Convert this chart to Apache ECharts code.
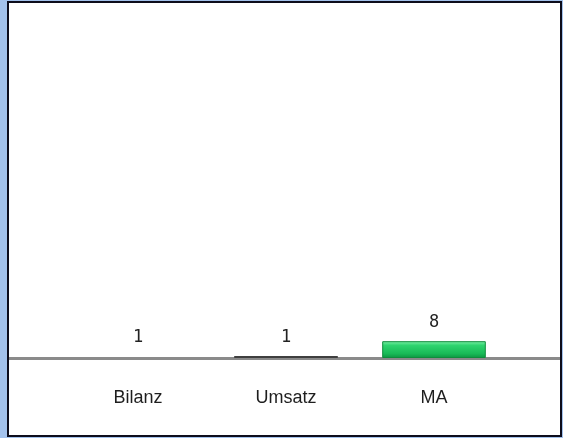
<!DOCTYPE html>
<html>
<head>
<meta charset="utf-8">
<script src="https://cdn.jsdelivr.net/npm/echarts@6/dist/echarts.min.js"></script>
<style>
html,body{margin:0;padding:0;width:563px;height:438px;overflow:hidden;background:#a3c2ec;}
#frame{position:absolute;left:7px;top:1px;width:555px;height:436px;box-sizing:border-box;border:2px solid #0d0d1c;background:#ffffff;}
#chart{position:absolute;left:0;top:0;width:563px;height:438px;}
</style>
</head>
<body>
<div id="frame"></div>
<div id="chart"></div>
<script>
const categories = ['Bilanz', 'Umsatz', 'MA'];
const values = [1, 1, 8];
const barColors = ['rgba(255,255,255,0)', '#3f3f3f', 'green'];

const chart = echarts.init(document.getElementById('chart'), null, {renderer: 'canvas'});

const greenGrad = new echarts.graphic.LinearGradient(0, 0, 0, 1, [
  {offset: 0, color: '#7ef0a8'},
  {offset: 0.25, color: '#2fd46f'},
  {offset: 0.75, color: '#18b956'},
  {offset: 1, color: '#0c9440'}
]);

const option = {
  backgroundColor: 'transparent',
  animation: false,
  grid: {left: 64, right: 55, top: 148, bottom: 80},
  xAxis: {
    type: 'category',
    data: categories,
    z: 1,
    axisLine: {show: true, lineStyle: {color: '#8a8a8a', width: 3}},
    axisTick: {show: false},
    axisLabel: {margin: 31, fontFamily: 'Liberation Sans', fontSize: 18, color: '#1e1e1e'}
  },
  yAxis: {
    type: 'value', min: 0, max: 100,
    show: false,
    splitLine: {show: false}
  },
  series: [{
    type: 'bar',
    z: 3,
    barWidth: '70%',
    data: values.map((v, i) => ({
      value: v,
      itemStyle: i === 2 ? {color: greenGrad, borderColor: '#0f8c3c', borderWidth: 1} : {color: barColors[i]}
    })),
    label: {
      show: true, position: 'top', distance: 10,
      fontFamily: 'DejaVu Sans Mono', fontSize: 17, color: '#222'
    }
  }]
};
chart.setOption(option);

const y0 = chart.convertToPixel({yAxisIndex: 0}, 0);
chart.setOption({
  graphic: [{
    type: 'line', z: 0,
    shape: {x1: 9, y1: y0 + 0.5, x2: 560, y2: y0 + 0.5},
    style: {stroke: '#8a8a8a', lineWidth: 3}
  }]
});
</script>
</body>
</html>
